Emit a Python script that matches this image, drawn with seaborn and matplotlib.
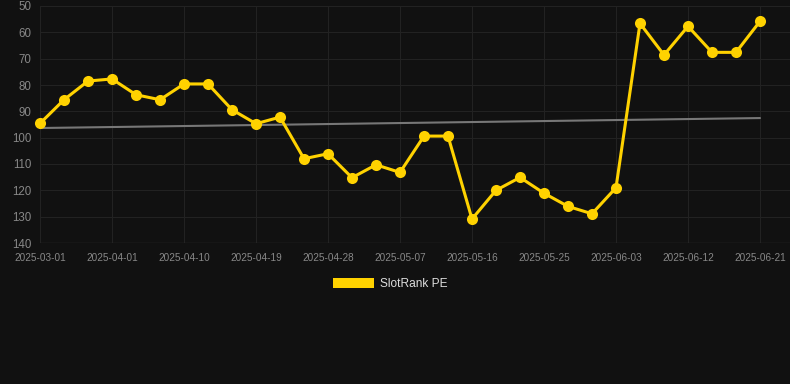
from matplotlib import pyplot as plt
from matplotlib.patches import Patch
import numpy as np
import pandas as pd
import seaborn as sns

# rank values (lower is better, so y is inverted)
dates = ['2025-03-01', '2025-03-26', '2025-03-29'] + \
    [d.strftime('%Y-%m-%d') for d in pd.date_range('2025-04-01', '2025-06-21', freq='3D')]
rank = [94.6, 85.6, 78.5, 77.7, 83.7, 85.6, 79.6, 79.6, 89.4, 94.7,
        92.2, 108.0, 106.1, 115.2, 110.3, 113.2, 99.4, 99.4, 130.9, 120.0,
        115.1, 121.1, 126.1, 128.9, 119.0, 56.6, 68.6, 57.7, 67.6, 67.6,
        55.8]
y_ticks = [50, 60, 70, 80, 90, 100, 110, 120, 130, 140]

table = pd.DataFrame({'date': dates, 'rank': rank})
table['pos'] = np.arange(len(table))

sns.set_style('dark')
plt.rcParams['font.family'] = ['Liberation Sans', 'DejaVu Sans']

bg = '#111111'
gold = '#FFD200'

fig = plt.figure(figsize=(7.9, 3.84), dpi=100, facecolor=bg)
ax = fig.add_axes([40 / 790, 1 - 243 / 384, 750 / 790, 237 / 384])
ax.set_facecolor(bg)

# trend line
coef = np.polyfit(table['pos'], table['rank'], 1)
ax.plot(table['pos'], np.polyval(coef, table['pos']), color='#777777', lw=1.5, zorder=2)

sns.lineplot(data=table, x='pos', y='rank', ax=ax, color=gold, lw=2.2,
             marker='o', markersize=8, markeredgewidth=0, zorder=3, legend=False)
for ln in ax.lines:
    ln.set_clip_on(False)

ax.set_ylim(140, 50)
ax.set_xlim(0, 31.25)
ax.set_yticks(y_ticks)
ax.set_xticks(table['pos'][::3])
ax.set_xticklabels(table['date'][::3])
ax.set_xlabel('')
ax.set_ylabel('')

ax.grid(True, color='#222222', lw=0.8)
for s in ax.spines.values():
    s.set_visible(False)
ax.axhline(140, color='#2e2e2e', lw=1, zorder=1)
ax.tick_params(axis='both', colors='#888888', length=0)
ax.tick_params(axis='x', labelsize=7.2, pad=7)
ax.tick_params(axis='y', labelsize=8.3, pad=6)

fig.legend(handles=[Patch(facecolor=gold, edgecolor='none', label='SlotRank PE')],
           loc='center', bbox_to_anchor=(390 / 790, 1 - 284 / 384), frameon=False,
           fontsize=8.6, labelcolor='#dddddd', handlelength=3.4, handleheight=1.0,
           handletextpad=0.5)

fig.savefig('out.png', dpi=100, facecolor=bg)
